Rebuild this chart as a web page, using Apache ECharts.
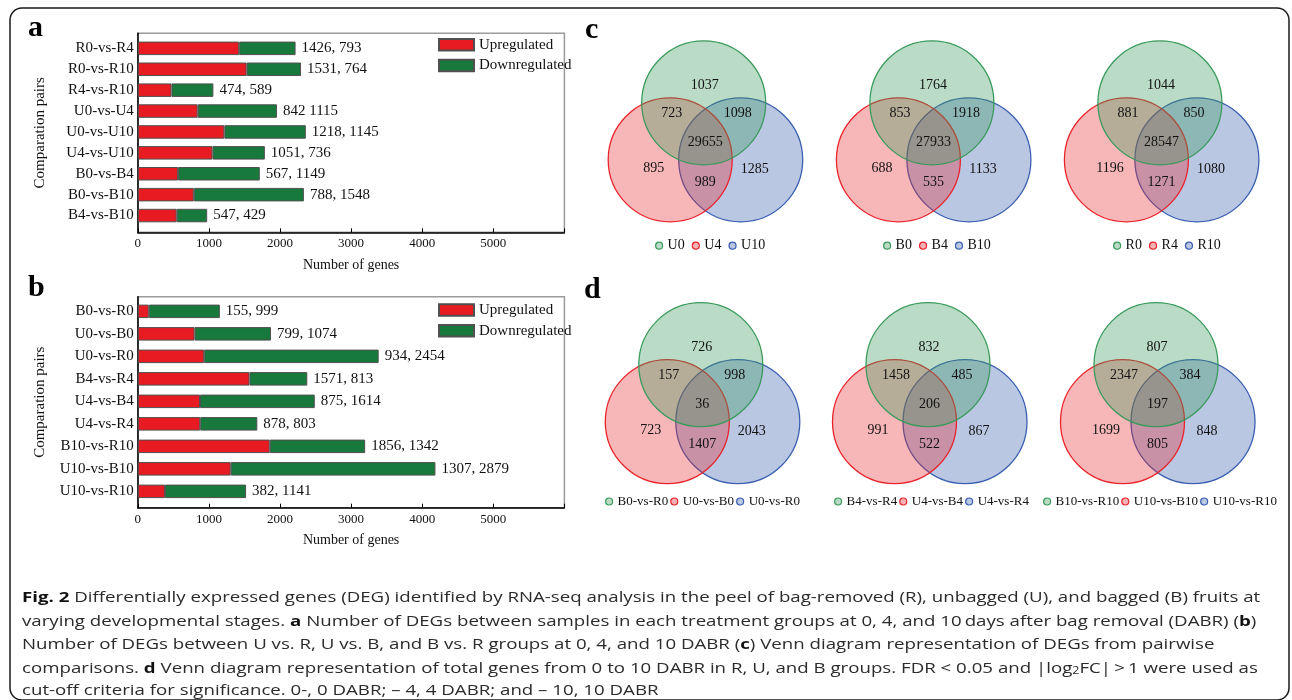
<!DOCTYPE html>
<html>
<head>
<meta charset="utf-8">
<script src="https://cdn.jsdelivr.net/npm/echarts@6/dist/echarts.min.js"></script>
<style>
  html, body { margin: 0; padding: 0; background: #fff; }
  #chart { width: 1292px; height: 700px; }
</style>
</head>
<body>
<div id="chart"></div>
<script>
// ---------- Panel a: DEGs within each treatment between stages ----------
const pairsA = ['R0-vs-R4', 'R0-vs-R10', 'R4-vs-R10', 'U0-vs-U4', 'U0-vs-U10', 'U4-vs-U10', 'B0-vs-B4', 'B0-vs-B10', 'B4-vs-B10'];
const upA    = [1426, 1531, 474, 842, 1218, 1051, 567, 788, 547];
const downA  = [793, 764, 589, 1115, 1145, 736, 1149, 1548, 429];
const joinA  = [', ', ', ', ', ', ' ', ', ', ', ', ', ', ', ', ', '];

// ---------- Panel b: DEGs between treatments at each stage ----------
const pairsB = ['B0-vs-R0', 'U0-vs-B0', 'U0-vs-R0', 'B4-vs-R4', 'U4-vs-B4', 'U4-vs-R4', 'B10-vs-R10', 'U10-vs-B10', 'U10-vs-R10'];
const upB    = [155, 799, 934, 1571, 875, 878, 1856, 1307, 382];
const downB  = [999, 1074, 2454, 813, 1614, 803, 1342, 2879, 1141];
const joinB  = [', ', ', ', ', ', ', ', ', ', ', ', ', ', ', ', ', '];

const geneTicks = [0, 1000, 2000, 3000, 4000, 5000];
const seriesNames = ['Upregulated', 'Downregulated'];

// ---------- Venn diagrams ----------
// region order: first only, first∩second, first∩third, all three, second only, second∩third, third only
const vennSetsC   = [['U0', 'U4', 'U10'], ['B0', 'B4', 'B10'], ['R0', 'R4', 'R10']];
const vennCountsC = [
  [1037, 723, 1098, 29655, 895, 989, 1285],
  [1764, 853, 1918, 27933, 688, 535, 1133],
  [1044, 881, 850, 28547, 1196, 1271, 1080]
];
const vennSetsD   = [['B0-vs-R0', 'U0-vs-B0', 'U0-vs-R0'], ['B4-vs-R4', 'U4-vs-B4', 'U4-vs-R4'], ['B10-vs-R10', 'U10-vs-B10', 'U10-vs-R10']];
const vennCountsD = [
  [726, 157, 998, 36, 723, 1407, 2043],
  [832, 1458, 485, 206, 991, 522, 867],
  [807, 2347, 384, 197, 1699, 805, 848]
];

// ---------- caption ----------
const captionLines = [
  '{b|Fig. 2} Differentially expressed genes (DEG) identified by RNA-seq analysis in the peel of bag-removed (R), unbagged (U), and bagged (B) fruits at',
  'varying developmental stages. {b|a} Number of DEGs between samples in each treatment groups at 0, 4, and 10\u2009days after bag removal (DABR) ({b|b})',
  'Number of DEGs between U vs. R, U vs. B, and B vs. R groups at 0, 4, and 10 DABR ({b|c}) Venn diagram representation of DEGs from pairwise',
  'comparisons. {b|d} Venn diagram representation of total genes from 0 to 10 DABR in R, U, and B groups. FDR < 0.05 and |log{s|2}FC|\u2009>\u20091 were used as',
  'cut-off criteria for significance. 0-, 0 DABR; \u2013 4, 4 DABR; and \u2013 10, 10 DABR'
];

// ---------- styling / layout ----------
const SERIF = '"Liberation Serif", "Times New Roman", serif';
const SANS = '"Open Sans", "Noto Sans", sans-serif';
const INK = '#111';
const RED = '#E81B22', GREEN = '#17793B', BAR_EDGE = '#505050';
const PLOT_LEFT = 137.8, PLOT_W = 426.6, GENE_MAX = 6000;

const barPanels = [
  { cats: pairsA, up: upA, down: downA, join: joinA, frameTop: 33.3, frameH: 199, barTop: 37.9, barH: 188.1, legendTop: 37.3 },
  { cats: pairsB, up: upB, down: downB, join: joinB, frameTop: 296.7, frameH: 211, barTop: 300.1, barH: 202.5, legendTop: 302.5 }
];

const VENN_R = 62;
const circleOffsets = [[0, 0], [-33.5, 57], [37, 57]];
const circleStyles = [
  { stroke: '#3A9A5C', fill: 'rgba(58,154,92,0.35)', chip: '#BADCC6' },
  { stroke: '#E8232B', fill: 'rgba(232,35,43,0.33)', chip: '#F7B2B5' },
  { stroke: '#3A5EB0', fill: 'rgba(58,94,176,0.35)', chip: '#BAC7E3' }
];
const regionAnchors = [[1, -17], [-32, 10.5], [34, 10.5], [1.5, 40], [-50, 66], [1.5, 80], [51, 67]];
const vennRows = [
  { sets: vennSetsC, counts: vennCountsC, cx: [703.7, 931.9, 1159.9], cy: 102.8, legendLeft: [655, 883, 1113], legendTop: 238.7, legendFont: 14, legendGap: 7 },
  { sets: vennSetsD, counts: vennCountsD, cx: [700.8, 928, 1156], cy: 364.7, legendLeft: [605, 834, 1043], legendTop: 495, legendFont: 13, legendGap: 2 }
];

const grid = [], xAxis = [], yAxis = [], series = [], legend = [];

// ---------- horizontal stacked bars ----------
barPanels.forEach((p, i) => {
  // frame with the value axis
  const fi = grid.length;
  grid.push({ left: PLOT_LEFT, top: p.frameTop, width: PLOT_W, height: p.frameH, show: true,
              borderColor: '#9b9b9b', borderWidth: 1.5, backgroundColor: 'transparent', outerBoundsMode: 'none' });
  xAxis.push({
    gridIndex: fi, type: 'value', min: 0, max: GENE_MAX, interval: 1000,
    axisLine: { show: true, lineStyle: { color: '#000', width: 1.5 } },
    axisTick: { show: true, inside: true, length: 4, lineStyle: { color: '#000' } },
    axisLabel: { fontFamily: SERIF, fontSize: 13, color: INK, margin: 5,
                 formatter: v => geneTicks.includes(v) ? String(v) : '' },
    splitLine: { show: false },
    name: 'Number of genes', nameLocation: 'middle', nameGap: 26,
    nameTextStyle: { fontFamily: SERIF, fontSize: 14, color: INK }
  });
  yAxis.push({
    gridIndex: fi, type: 'value', min: 0, max: 1,
    axisLine: { show: true, lineStyle: { color: '#000', width: 1.5 } },
    axisTick: { show: false }, axisLabel: { show: false }, splitLine: { show: false },
    name: 'Comparation pairs', nameLocation: 'middle', nameGap: 90, nameRotate: 90,
    nameTextStyle: { fontFamily: SERIF, fontSize: 15, color: INK }
  });

  // bars
  const bi = grid.length;
  grid.push({ left: PLOT_LEFT, top: p.barTop, width: PLOT_W, height: p.barH, outerBoundsMode: 'none' });
  xAxis.push({ gridIndex: bi, type: 'value', min: 0, max: GENE_MAX, show: false });
  yAxis.push({
    gridIndex: bi, type: 'category', data: p.cats, inverse: true,
    axisLine: { show: false }, axisTick: { show: false },
    axisLabel: { fontFamily: SERIF, fontSize: 15, color: INK, margin: 4 }
  });
  series.push({
    type: 'bar', name: seriesNames[0], xAxisIndex: bi, yAxisIndex: bi, stack: 'genes' + i,
    data: p.up, barWidth: 13.5, silent: true,
    itemStyle: { color: RED, borderColor: BAR_EDGE, borderWidth: 1 }
  });
  series.push({
    type: 'bar', name: seriesNames[1], xAxisIndex: bi, yAxisIndex: bi, stack: 'genes' + i,
    data: p.down, barWidth: 13.5, silent: true,
    itemStyle: { color: GREEN, borderColor: BAR_EDGE, borderWidth: 1 },
    label: {
      show: true, position: 'right', distance: 6, fontFamily: SERIF, fontSize: 15, color: INK,
      formatter: q => p.up[q.dataIndex] + p.join[q.dataIndex] + p.down[q.dataIndex]
    }
  });
  legend.push({
    left: 438, top: p.legendTop, padding: 0, orient: 'vertical', itemWidth: 35, itemHeight: 11.5, itemGap: 5.7,
    icon: 'rect', selectedMode: false, data: seriesNames,
    textStyle: { fontFamily: SERIF, fontSize: 15, color: INK }
  });
});

// ---------- Venn panels ----------
vennRows.forEach(row => {
  row.sets.forEach((names, j) => {
    const gi = grid.length;
    const cx = row.cx[j], cy = row.cy;
    grid.push({ left: cx - 110, top: cy - 80, width: 220, height: 220, outerBoundsMode: 'none' });
    xAxis.push({ gridIndex: gi, type: 'value', min: -110, max: 110, show: false });
    yAxis.push({ gridIndex: gi, type: 'value', min: -80, max: 140, inverse: true, show: false });

    // circles: third set first, first set on top
    [2, 1, 0].forEach(k => {
      const st = circleStyles[k];
      series.push({
        type: 'custom', name: names[k], xAxisIndex: gi, yAxisIndex: gi, silent: true,
        data: [circleOffsets[k]],
        renderItem: (params, api) => {
          const c = api.coord([api.value(0), api.value(1)]);
          const r = api.size([VENN_R, 0])[0];
          return { type: 'circle', shape: { cx: c[0], cy: c[1], r: r },
                   style: { fill: st.fill, stroke: st.stroke, lineWidth: 1.3 } };
        }
      });
    });

    // region counts
    series.push({
      type: 'custom', name: 'counts', xAxisIndex: gi, yAxisIndex: gi, silent: true, z: 5,
      data: row.counts[j].map((v, r) => [regionAnchors[r][0], regionAnchors[r][1], v]),
      renderItem: (params, api) => {
        const c = api.coord([api.value(0), api.value(1)]);
        return { type: 'text', x: c[0], y: c[1],
                 style: { text: String(api.value(2)), fontFamily: SERIF, fontSize: 14, fill: INK,
                          align: 'center', verticalAlign: 'middle' } };
      }
    });

    legend.push({
      left: row.legendLeft[j], top: row.legendTop, padding: 0, orient: 'horizontal',
      itemWidth: 7, itemHeight: 7, itemGap: row.legendGap, icon: 'circle', selectedMode: false,
      data: names.map((n, k) => ({ name: n, itemStyle: { color: circleStyles[k].chip, borderColor: circleStyles[k].stroke, borderWidth: 1.2 } })),
      textStyle: { fontFamily: SERIF, fontSize: row.legendFont, color: INK }
    });
  });
});

// ---------- frame, panel letters, caption ----------
const letterStyle = { fontFamily: SERIF, fontSize: 30, fontWeight: 'bold', fill: '#000', verticalAlign: 'middle' };
const graphic = [
  { type: 'rect', shape: { x: 10, y: 8, width: 1279, height: 692, r: 12 },
    style: { fill: 'none', stroke: '#1a1a1a', lineWidth: 1.5 }, silent: true, z: -1 },
  { type: 'text', style: Object.assign({ text: 'a', x: 28, y: 28 }, letterStyle) },
  { type: 'text', style: Object.assign({ text: 'b', x: 28, y: 288 }, letterStyle) },
  { type: 'text', style: Object.assign({ text: 'c', x: 585, y: 30 }, letterStyle) },
  { type: 'text', style: Object.assign({ text: 'd', x: 584, y: 290 }, letterStyle) }
];
// caption set in a compact size and widened horizontally to the figure width
const CAP_SIZE = 15, CAP_STRETCH = 1.245, CAP_COLOR = '#2b2b2b';
const captionY = [598, 621.5, 645, 668.5, 690.5];
captionLines.forEach((line, i) => {
  graphic.push({
    type: 'text', silent: true, x: 22, y: captionY[i], scaleX: CAP_STRETCH,
    style: {
      text: line, x: 0, y: 0, fontFamily: SANS, fontSize: CAP_SIZE, fill: CAP_COLOR,
      verticalAlign: 'middle',
      rich: {
        b: { fontFamily: SANS, fontSize: CAP_SIZE, fontWeight: 'bold', fill: '#111' },
        s: { fontFamily: SANS, fontSize: 10, fill: CAP_COLOR, verticalAlign: 'bottom' }
      }
    }
  });
});

const chart = echarts.init(document.getElementById('chart'), null, { renderer: 'canvas' });
chart.setOption({
  backgroundColor: '#fff',
  animation: false,
  textStyle: { fontFamily: SERIF },
  grid, xAxis, yAxis, series, legend, graphic
});
</script>
</body>
</html>
